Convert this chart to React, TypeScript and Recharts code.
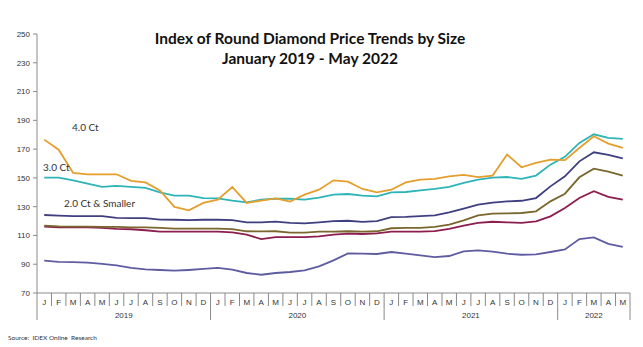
import React from 'react';
import { LineChart, Line, XAxis, YAxis } from 'recharts';

// month letters, Jan 2019 .. May 2022
const monthLetters = ['J', 'F', 'M', 'A', 'M', 'J', 'J', 'A', 'S', 'O', 'N', 'D'];
const months = [...monthLetters, ...monthLetters, ...monthLetters, 'J', 'F', 'M', 'A', 'M'];

const years = [
  { label: '2019', start: 0, end: 11 },
  { label: '2020', start: 12, end: 23 },
  { label: '2021', start: 24, end: 35 },
  { label: '2022', start: 36, end: 40 },
];

const yTicks = [70, 90, 110, 130, 150, 170, 190, 210, 230, 250];

const ct4 = [
  176.6, 169.6, 153.4, 152.5, 152.5, 152.5, 147.9, 146.9, 141.3, 129.8, 127.4, 132.6,
  134.9, 143.7, 132.6, 134.2, 135.8, 133.5, 138.4, 141.8, 148.3, 147.4, 142.3, 140.0,
  141.8, 146.9, 148.8, 149.3, 151.1, 152.1, 150.5, 151.6, 166.2, 157.4, 160.4, 162.7,
  162.3, 170.8, 178.9, 173.8, 170.8,
];
const ct3 = [
  150.2, 150.2, 148.3, 146.0, 143.7, 144.4, 143.7, 143.0, 140.0, 137.7, 137.7, 136.0,
  135.8, 134.2, 133.0, 134.9, 135.5, 135.5, 134.9, 136.3, 138.4, 138.8, 137.7, 137.2,
  140.0, 140.2, 141.3, 142.3, 143.7, 146.5, 148.8, 150.2, 150.6, 149.3, 151.6, 159.2,
  164.6, 174.3, 180.3, 177.8, 177.1,
];
const navy = [
  124.2, 123.8, 123.4, 123.4, 123.4, 122.2, 122.0, 122.0, 121.0, 120.9, 120.7, 120.9,
  120.9, 120.7, 119.1, 119.1, 119.6, 118.7, 118.4, 119.1, 120.0, 120.2, 119.5, 120.0,
  122.8, 122.9, 123.4, 124.0, 126.0, 128.6, 131.4, 132.8, 133.7, 134.1, 136.0, 144.1,
  151.1, 161.5, 167.8, 166.0, 163.6,
];
const olive = [
  116.8, 116.3, 116.1, 116.1, 116.0, 115.9, 115.6, 115.6, 115.2, 114.7, 114.8, 114.7,
  114.8, 114.4, 112.9, 112.8, 112.9, 112.0, 111.9, 112.7, 112.7, 112.9, 112.7, 112.9,
  115.0, 115.2, 115.3, 115.9, 117.5, 120.5, 124.0, 125.1, 125.3, 125.6, 126.8, 133.7,
  139.0, 150.4, 156.4, 154.4, 151.6,
];
const maroon = [
  116.1, 115.6, 115.6, 115.6, 115.2, 114.5, 114.3, 113.6, 112.6, 112.6, 112.6, 112.6,
  112.6, 112.2, 110.5, 107.5, 108.9, 108.9, 108.9, 109.4, 110.5, 111.2, 111.0, 111.5,
  112.6, 112.6, 112.6, 113.0, 114.5, 116.8, 118.7, 119.5, 119.1, 118.7, 119.8, 123.3,
  129.1, 136.0, 140.7, 136.8, 134.9,
];
const purple = [
  92.5, 91.6, 91.4, 91.1, 90.2, 89.2, 87.4, 86.4, 86.0, 85.5, 86.0, 86.7,
  87.4, 86.2, 83.9, 82.7, 83.9, 84.6, 85.7, 88.5, 92.7, 97.5, 97.3, 97.1,
  98.5, 97.3, 96.2, 95.0, 95.7, 98.9, 99.6, 98.7, 97.3, 96.6, 96.8, 98.5,
  100.3, 107.5, 108.7, 104.1, 102.0,
];

const data = months.map((m, i) => ({
  idx: i,
  month: m,
  ct4: ct4[i],
  ct3: ct3[i],
  navy: navy[i],
  olive: olive[i],
  maroon: maroon[i],
  purple: purple[i],
}));

const W = 643;
const H = 347;
const PLOT_LEFT = 37;
const PLOT_RIGHT = 630;
const AXIS_Y = 293;
const BW = (PLOT_RIGHT - PLOT_LEFT) / months.length;
const AXIS_COLOR = '#8a8a8a';
const TEXT_COLOR = '#333';

const MonthTick = (props: any) => {
  const { x, index } = props;
  const i = index;
  const left = x - BW / 2;
  const year = years.find((y) => y.start === i);
  const isLast = i === months.length - 1;
  return (
    <g>
      <line x1={left} x2={left} y1={AXIS_Y} y2={year ? AXIS_Y + 27 : AXIS_Y + 13} stroke={AXIS_COLOR} strokeWidth={1} />
      {isLast && (
        <line x1={x + BW / 2} x2={x + BW / 2} y1={AXIS_Y} y2={AXIS_Y + 27} stroke={AXIS_COLOR} strokeWidth={1} />
      )}
      <text x={x} y={AXIS_Y + 12} textAnchor="middle" fontSize={8} fontFamily="Liberation Sans, Arial, sans-serif" fill={TEXT_COLOR}>
        {months[i]}
      </text>
      {year && (
        <text
          x={x + ((year.end - year.start) / 2) * BW}
          y={AXIS_Y + 25}
          textAnchor="middle"
          fontSize={8}
          fontFamily="Liberation Sans, Arial, sans-serif"
          fill={TEXT_COLOR}
        >
          {year.label}
        </text>
      )}
    </g>
  );
};

const lines = [
  { key: 'purple', color: '#5E5CA0' },
  { key: 'maroon', color: '#8C1D4E' },
  { key: 'olive', color: '#7A672E' },
  { key: 'navy', color: '#3F3F80' },
  { key: 'ct3', color: '#2EB4B8' },
  { key: 'ct4', color: '#E59E2D' },
];

export default function App() {
  return (
    <div style={{ position: 'fixed', left: 0, top: 0, width: W, height: H, background: '#fff' }}>
      <LineChart width={W} height={H} data={data} margin={{ top: 34, right: W - PLOT_RIGHT, bottom: 14, left: 7 }}>
        <XAxis
          dataKey="idx"
          type="category"
          interval={0}
          padding={{ left: BW / 2, right: BW / 2 }}
          axisLine={{ stroke: AXIS_COLOR }}
          tickLine={false}
          tick={<MonthTick />}
          height={40}
        />
        <YAxis
          domain={[70, 250]}
          ticks={yTicks}
          width={30}
          axisLine={{ stroke: AXIS_COLOR }}
          tickLine={{ stroke: AXIS_COLOR }}
          tickSize={4}
          tickMargin={3}
          tick={{ fontSize: 8, fill: TEXT_COLOR, fontFamily: 'Liberation Sans, Arial, sans-serif' }}
        />
        {lines.map((l) => (
          <Line
            key={l.key}
            dataKey={l.key}
            type="linear"
            stroke={l.color}
            strokeWidth={1.8}
            dot={false}
            isAnimationActive={false}
          />
        ))}
      </LineChart>
      <svg width={W} height={H} style={{ position: 'absolute', left: 0, top: 0, pointerEvents: 'none' }}>
        <text x={310} y={44} textAnchor="middle" fontSize={15.5} fontWeight="bold" fontFamily="Lato, sans-serif" fill="#111">
          Index of Round Diamond Price Trends by Size
        </text>
        <text x={310} y={64} textAnchor="middle" fontSize={15.5} fontWeight="bold" fontFamily="Lato, sans-serif" fill="#111">
          January 2019 - May 2022
        </text>
        <text x={72} y={131} fontSize={10} fontFamily="Lato, sans-serif" fill={TEXT_COLOR}>4.0 Ct</text>
        <text x={43} y={171} fontSize={10} fontFamily="Lato, sans-serif" fill={TEXT_COLOR}>3.0 Ct</text>
        <text x={64} y={207} fontSize={10} fontFamily="Lato, sans-serif" fill={TEXT_COLOR}>2.0 Ct &amp; Smaller</text>
        <text x={8} y={340} fontSize={6.5} fontFamily="Lato, sans-serif" fill={TEXT_COLOR} style={{ whiteSpace: 'pre' }}>
          {'Source:  IDEX Online  Research'}
        </text>
      </svg>
    </div>
  );
}
